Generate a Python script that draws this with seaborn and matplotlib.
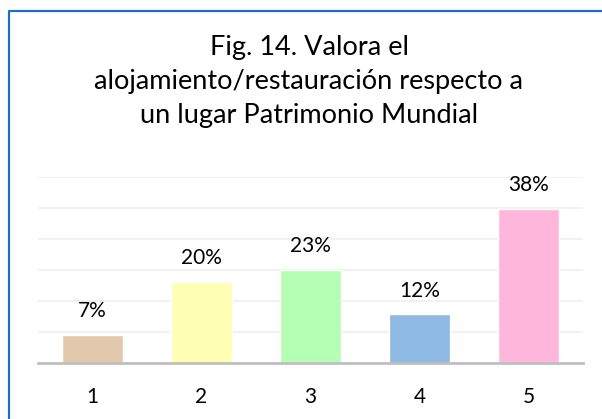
import matplotlib
matplotlib.use("Agg")
import matplotlib.pyplot as plt
import seaborn as sns
import pandas as pd
import numpy as np
from matplotlib.lines import Line2D

categories = ["1", "2", "3", "4", "5"]
values = [7, 20, 23, 12, 38]
labels = ["7%", "20%", "23%", "12%", "38%"]
colors = ["#E2C8AC", "#FFFFB4", "#B4FFB4", "#8DB9E2", "#FFB6DB"]
title_lines = ["Fig. 14. Valora el",
               "alojamiento/restauración respecto a",
               "un lugar Patrimonio Mundial"]

sns.set_theme(style="white")
plt.rcParams["font.family"] = ["Lato", "DejaVu Sans"]

W, H = 602, 419
fig = plt.figure(figsize=(W / 100, H / 100), dpi=100)
ax = fig.add_axes([38 / W, 56 / H, 545 / W, 186 / H])

df = pd.DataFrame({"cat": categories, "val": values})
sns.barplot(data=df, x="cat", y="val", hue="cat", palette=colors,
            legend=False, width=0.56, ax=ax, saturation=1)

ymax = 186 / 4.05
ax.set_ylim(0, ymax)
ax.set_xlim(-0.5, 4.5)
ax.set_yticks(np.linspace(0, ymax, 7))
ax.yaxis.grid(True, color="#EFEFEF", linewidth=1.2)
ax.set_axisbelow(True)
ax.set_yticklabels([])
ax.tick_params(axis="y", length=0)
ax.tick_params(axis="x", length=0, pad=17, labelsize=15, labelcolor="#000000")
ax.set_xlabel("")
ax.set_ylabel("")
for s in ["top", "right", "left"]:
    ax.spines[s].set_visible(False)
ax.spines["bottom"].set_color("#BFBFBF")
ax.spines["bottom"].set_linewidth(2)

for i, cont in enumerate(ax.containers):
    ax.bar_label(cont, labels=[labels[i]], padding=10, fontsize=15, color="#000000")

for y, line in zip([55, 88.5, 123], title_lines):
    fig.text(309 / W, 1 - y / H, line, ha="center", va="baseline", fontsize=19.5,
             color="#000000")

blue = "#1F6FC0"
fig.add_artist(Line2D([8.5 / W, 8.5 / W, 1.0], [0, 1 - 11.5 / H, 1 - 11.5 / H],
                      transform=fig.transFigure, color=blue, linewidth=1.6))

fig.savefig("out.png", dpi=100)
